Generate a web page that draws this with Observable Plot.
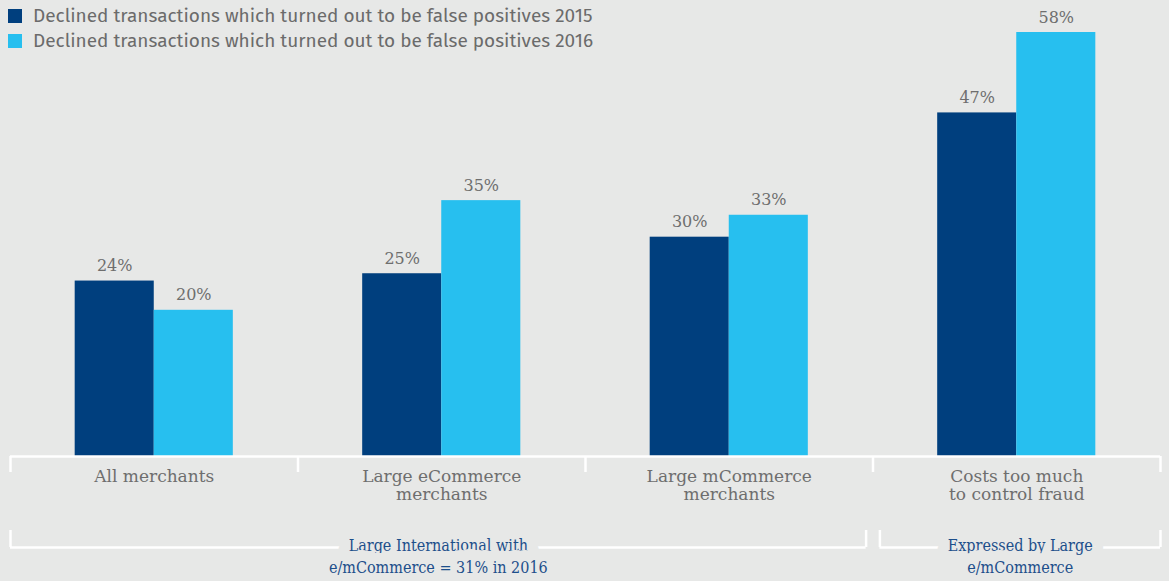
<!DOCTYPE html>
<html>
<head>
<meta charset="utf-8">
<script src="https://cdn.jsdelivr.net/npm/d3@7"></script>
<script src="https://cdn.jsdelivr.net/npm/@observablehq/plot@0.6"></script>
<style>
  html, body { margin: 0; padding: 0; background: #e7e8e7; }
  #wrap { position: relative; width: 1169px; height: 581px; overflow: hidden; }
  #legend { position: absolute; left: 8px; top: 3px; font-family: "Fira Sans", Roboto, "Noto Sans", sans-serif;
            font-size: 19px; color: #6b6b6b; line-height: 25px; }
  #legend .item { display: flex; align-items: center; white-space: nowrap; }
  #legend .sw { width: 14px; height: 14px; margin-right: 11px; flex: none; }
  svg g[font-family*="Condensed"] { font-stretch: condensed; }
</style>
</head>
<body>
<div id="wrap"><div id="legend"></div></div>
<script>
// ---- data ----
const categories = ["All merchants", "Large eCommerce\nmerchants", "Large mCommerce\nmerchants", "Costs too much\nto control fraud"];
const values2015 = [24, 25, 30, 47];
const values2016 = [20, 35, 33, 58];
const seriesNames = [
  "Declined transactions which turned out to be false positives 2015",
  "Declined transactions which turned out to be false positives 2016"
];
const groupLabels = ["Large International with\ne/mCommerce = 31% in 2016", "Expressed by Large\ne/mCommerce"];
const groupFirst = [0, 3];
const groupLast = [2, 3];

// ---- style ----
const colors = ["#003f7e", "#27bfef"];
const bg = "#e7e8e7";
const gray = "#6e6e6e";
const blue = "#1d4f8b";

// ---- build ----
const bars = categories.flatMap((c, i) => [
  {i, s: 0, series: seriesNames[0], value: values2015[i]},
  {i, s: 1, series: seriesNames[1], value: values2016[i]}
]);
const groups = groupLabels.map((label, k) => ({label, first: groupFirst[k], last: groupLast[k], k}));

const W = 1169, H = 581, mt = 32, mb = 125, ml = 10, mr = 9;
const ymax = d3.max([...values2015, ...values2016]);
const pxPerUnit = (H - mt - mb) / ymax;
const u = px => px / pxPerUnit;           // pixel length -> y units
const barW = 0.275;                       // bar width in category units
const gapHalf = 0.024;                    // half gap between brackets
const tickLen = u(16), brY = -u(91), brTick = -u(74);

const bx1 = d => d.i - barW + barW * d.s;
const bx2 = d => bx1(d) + barW;
const g1 = g => g.first - 0.5 + (g.first > 0 ? gapHalf : 0);
const g2 = g => g.last + 0.5 - (g.last < categories.length - 1 ? gapHalf : 0);

const chart = Plot.plot({
  width: W, height: H,
  marginLeft: ml, marginRight: mr, marginTop: mt, marginBottom: mb,
  style: {background: bg, overflow: "visible"},
  x: {type: "linear", domain: [-0.5, categories.length - 0.5], axis: null},
  y: {domain: [0, ymax], axis: null},
  color: {type: "ordinal", domain: seriesNames, range: colors},
  marks: [
    Plot.rect(bars, {x1: bx1, x2: bx2, y1: 0, y2: "value", fill: "series"}),
    Plot.ruleY([0], {stroke: "white", strokeWidth: 2.5}),
    Plot.ruleX(d3.range(categories.length + 1), {x: d => d - 0.5, y1: 0, y2: -tickLen, stroke: "white", strokeWidth: 2.5}),
    Plot.text(bars, {x: d => (bx1(d) + bx2(d)) / 2, y: "value", text: d => d.value + "%", dy: -10, lineAnchor: "bottom",
      fill: gray, fontSize: 16, fontFamily: "DejaVu Serif"}),
    Plot.text(categories, {x: (d, i) => i, y: 0, text: d => d, lineAnchor: "top", dy: 12, lineHeight: 1.1,
      fill: gray, fontSize: 17, fontFamily: "DejaVu Serif"}),
    Plot.ruleY(groups, {x1: g1, x2: g2, y: brY, stroke: "white", strokeWidth: 2.5}),
    Plot.ruleX(groups.flatMap(g => [{x: g1(g)}, {x: g2(g)}]), {x: "x", y1: brY, y2: brTick, stroke: "white", strokeWidth: 2.5}),
    Plot.text(groups, {x: g => (g1(g) + g2(g)) / 2, y: brY, text: "label", lineAnchor: "top", dy: -13, lineHeight: 1.42,
      fill: blue, stroke: bg, strokeWidth: 22, paintOrder: "stroke", fontSize: 16,
      fontFamily: "DejaVu Serif Condensed, DejaVu Serif"})
  ]
});
document.getElementById("wrap").prepend(chart);

const legend = document.getElementById("legend");
seriesNames.forEach((name, k) => {
  const item = document.createElement("div");
  item.className = "item";
  const sw = document.createElement("span");
  sw.className = "sw";
  sw.style.background = colors[k];
  item.appendChild(sw);
  item.appendChild(document.createTextNode(name));
  legend.appendChild(item);
});
</script>
</body>
</html>
